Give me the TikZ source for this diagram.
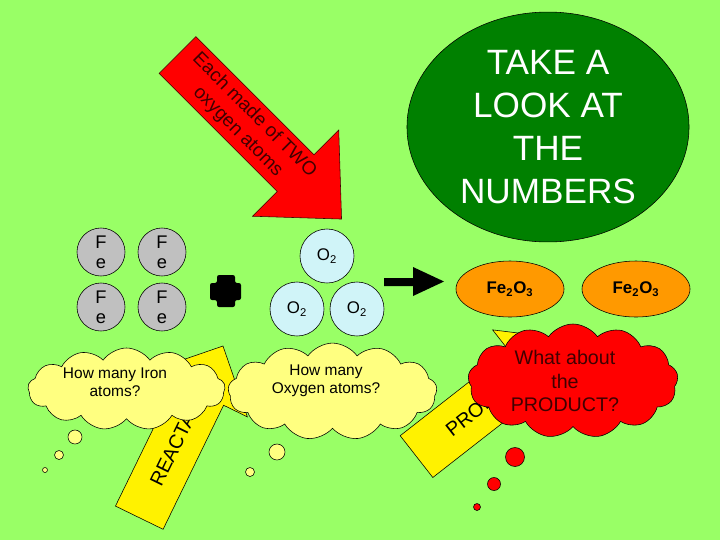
\documentclass[tikz,border=0pt]{standalone}
\usepackage{fontspec}
\setmainfont{Liberation Sans}
\usetikzlibrary{shapes.geometric, shapes.symbols, positioning}

\definecolor{slidegreen}{RGB}{153,255,102}
\definecolor{atomgrey}{RGB}{192,192,192}
\definecolor{oxblue}{RGB}{208,244,248}
\definecolor{rustorange}{RGB}{255,153,0}
\definecolor{darkgreen}{RGB}{0,128,0}
\definecolor{pale}{RGB}{255,255,128}
\definecolor{maroon}{RGB}{64,0,0}

\tikzset{
  featom/.style={circle, draw, fill=atomgrey, minimum size=1.2cm, inner sep=0pt,
    align=center, font=\fontsize{13}{14.2}\selectfont},
  oxatom/.style={circle, draw, fill=oxblue, minimum size=1.35cm, inner sep=0pt,
    font=\fontsize{12}{14}\selectfont},
  rust/.style={ellipse, draw, fill=rustorange, minimum width=2.7cm, minimum height=1.4cm,
    inner sep=0pt, font=\bfseries\fontsize{12}{14}\selectfont},
  thought/.style={cloud, draw, cloud puffs=13, cloud puff arc=110, aspect=2.5, inner sep=0pt},
  puff/.style={draw, fill=#1},
  cloudtext/.style={align=center, font=\fontsize{11}{13}\selectfont},
  arrowtext/.style={font=\fontsize{14}{16}\selectfont}
}

\begin{document}
\begin{tikzpicture}[x=0.025cm, y=-0.025cm]
  \fill[slidegreen] (0,0) rectangle (720,540);
  \useasboundingbox (0,0) rectangle (720,540);

  % red arrow
  \begin{scope}[shift={(177.5,55)}, rotate=-45]
    \filldraw[fill=red, draw=maroon] (0,-26) -- (167,-26) -- (167,-61) -- (232,0)
      -- (167,61) -- (167,26) -- (0,26) -- cycle;
    \node[rotate=-45, align=center, text=maroon, font=\fontsize{13.5}{16.5}\selectfont]
      (twotext) at (97,0) {Each made of TWO\\oxygen atoms};
  \end{scope}

  \node[ellipse, draw, fill=darkgreen, minimum width=7.05cm, minimum height=5.2cm,
    text=white, align=center, font=\fontsize{25}{30.5}\selectfont]
    (numbers) at (548,127) {TAKE A\\LOOK AT\\THE\\NUMBERS};

  % reactants
  \node[featom] at (101,252) (fe1) {F\\e};
  \node[featom] at (162,252) (fe2) {F\\e};
  \node[featom] at (101,307) (fe3) {F\\e};
  \node[featom] at (162,307) (fe4) {F\\e};

  \fill[rounded corners=1.5pt] (217,275) -- (235,275) -- (235,283) -- (241,283) -- (241,300)
    -- (235,300) -- (235,307) -- (217,307) -- (217,300) -- (210,300) -- (210,283)
    -- (217,283) -- cycle;

  \node[oxatom] at (327,256) (ox1) {O\textsubscript{2}};
  \node[oxatom] at (297,309) (ox2) {O\textsubscript{2}};
  \node[oxatom] at (357,309) (ox3) {O\textsubscript{2}};

  \fill (384,278) -- (413,278) -- (413,267) -- (444,281.5) -- (413,296) -- (413,286)
    -- (384,286) -- cycle;

  % products
  \node[rust] at (510,289) (rust1) {Fe\textsubscript{2}O\textsubscript{3}};
  \node[rust] at (636,289) (rust2) {Fe\textsubscript{2}O\textsubscript{3}};

  % yellow arrows
  \begin{scope}[shift={(223,346)}, rotate=64]
    \filldraw[fill=yellow] (0,0) -- (-53,53) -- (-53,26.5) -- (-191,26.5) -- (-191,-26.5)
      -- (-53,-26.5) -- (-53,-53) -- cycle;
    \node[rotate=64, arrowtext] (reactants) at (-95.5,0) {REACTANTS};
  \end{scope}
  \begin{scope}[shift={(567,339)}, rotate=38]
    \filldraw[fill=yellow] (0,0) -- (-53,53) -- (-53,26.5) -- (-191,26.5) -- (-191,-26.5)
      -- (-53,-26.5) -- (-53,-53) -- cycle;
    \node[rotate=38, arrowtext] (products) at (-95.5,0) {PRODUCTS};
  \end{scope}

  % thought clouds
  \node[thought, fill=pale, minimum width=4.93cm, minimum height=2.05cm] (ironcloud) at (126.5,389) {};
  \node[thought, fill=pale, minimum width=5.22cm, minimum height=2.42cm] (oxcloud) at (332.5,391.5) {};
  \node[thought, fill=red, minimum width=5.25cm, minimum height=2.85cm] (redcloud) at (573,381) {};

  \node[cloudtext] (irontext) at (115,382) {How many Iron\\atoms?};
  \node[cloudtext] (oxtext) at (326,381) {How many\\Oxygen atoms?};
  \node[cloudtext, text=maroon, font=\fontsize{14}{17}\selectfont] (redtext) at (565,381)
    {What about\\the\\PRODUCT?};

  \filldraw[puff=pale] (75,437) circle [radius=7];
  \filldraw[puff=pale] (59,455) circle [radius=4.5];
  \filldraw[puff=pale] (45,470) circle [radius=2.5];
  \filldraw[puff=pale] (277,452) circle [radius=8];
  \filldraw[puff=pale] (250,472) circle [radius=4.5];
  \filldraw[puff=red] (515,457) circle [radius=9.5];
  \filldraw[puff=red] (494,484) circle [radius=6.5];
  \filldraw[puff=red] (477,507) circle [radius=3.5];
\end{tikzpicture}
\end{document}
